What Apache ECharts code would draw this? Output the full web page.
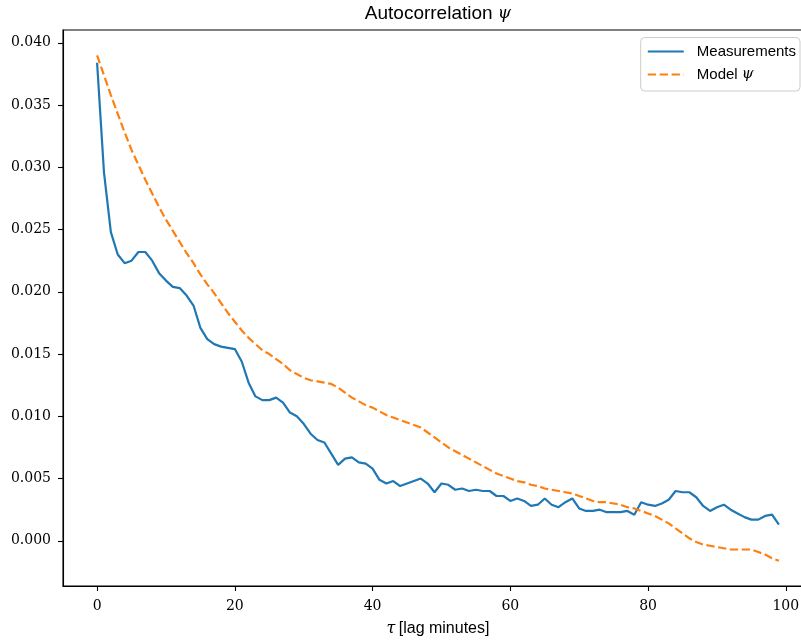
<!DOCTYPE html>
<html>
<head>
<meta charset="utf-8">
<script src="https://cdn.jsdelivr.net/npm/echarts@6/dist/echarts.min.js"></script>
<style>
html,body{margin:0;padding:0;background:#fff;overflow:hidden;width:801px;height:642px;}
#chart{width:830px;height:642px;}
</style>
</head>
<body>
<div id="chart"></div>
<script>
const lags = Array.from({length: 100}, (_, i) => i);
const measurements = [
0.0384,0.0296,0.0248,0.0230,0.0223,0.0225,0.0232,0.0232,0.0225,0.0215,
0.0209,0.0204,0.0203,0.0197,0.0189,0.0171,0.0162,0.0158,0.0156,0.0155,
0.0154,0.0144,0.0127,0.0116,0.0113,0.0113,0.0115,0.0111,0.0103,0.0100,
0.0094,0.0086,0.0081,0.0079,0.0070,0.0061,0.0066,0.0067,0.0063,0.0062,
0.0058,0.0049,0.0046,0.0048,0.0044,0.0046,0.0048,0.0050,0.0046,0.0039,
0.0046,0.0045,0.0041,0.0042,0.0040,0.0041,0.0040,0.0040,0.0036,0.0036,
0.0032,0.0034,0.0032,0.0028,0.0029,0.0034,0.0029,0.0027,0.0031,0.0034,
0.0026,0.0024,0.0024,0.0025,0.0023,0.0023,0.0023,0.0024,0.0021,0.0031,
0.0029,0.0028,0.0030,0.0033,0.0040,0.0039,0.0039,0.0035,0.0028,0.0024,
0.0027,0.0029,0.0025,0.0022,0.0019,0.0017,0.0017,0.0020,0.0021,0.0013
];
const model = [
0.0390,0.0374,0.0358,0.0343,0.0328,0.0314,0.0302,0.0290,0.0279,0.0268,
0.0258,0.0249,0.0240,0.0231,0.0223,0.0214,0.0206,0.0199,0.0191,0.0183,
0.0176,0.0169,0.0163,0.0158,0.0153,0.0150,0.0146,0.0142,0.0137,0.0134,
0.0131,0.0129,0.0128,0.0127,0.0126,0.0123,0.0119,0.0115,0.0112,0.0109,
0.0107,0.0104,0.0101,0.0099,0.0097,0.0095,0.0093,0.0091,0.0087,0.0083,
0.0079,0.0075,0.0072,0.0069,0.0066,0.0063,0.0060,0.0057,0.0054,0.0052,
0.0050,0.0048,0.0047,0.0045,0.0044,0.0042,0.0041,0.0040,0.0039,0.0038,
0.0036,0.0034,0.0032,0.0031,0.0031,0.0030,0.0029,0.0027,0.0026,0.0024,
0.0022,0.0020,0.0017,0.0014,0.0010,0.0006,0.0002,-0.0001,-0.0003,-0.0004,
-0.0005,-0.0006,-0.0007,-0.0007,-0.0007,-0.0007,-0.0009,-0.0011,-0.0014,-0.0016
];
const xTicks = [0, 20, 40, 60, 80, 100];
const yTicks = [0.000, 0.005, 0.010, 0.015, 0.020, 0.025, 0.030, 0.035, 0.040];

const chart = echarts.init(document.getElementById('chart'), null, {renderer: 'canvas'});
const serif = '"DejaVu Serif", "Liberation Serif", serif';
const sans = '"Liberation Sans", "DejaVu Sans", sans-serif';
chart.setOption({
  animation: false,
  backgroundColor: '#fff',
  title: {
    text: '{a|Autocorrelation }{m|ψ}',
    left: 433, textAlign: 'center', top: -1,
    textStyle: {
      rich: {
        a: {fontFamily: sans, fontSize: 19, color: '#000', fontWeight: 'normal'},
        m: {fontFamily: serif, fontStyle: 'italic', fontSize: 17, color: '#000', fontWeight: 'normal'}
      }
    }
  },
  legend: {
    orient: 'vertical', right: 30, top: 37.5,
    padding: [6.5, 4, 9, 6], itemGap: 8,
    itemWidth: 36, itemHeight: 14,
    borderColor: '#cccccc', borderWidth: 1, borderRadius: 4,
    backgroundColor: 'rgba(255,255,255,0.8)',
    itemStyle: {opacity: 0, borderWidth: 0},
    lineStyle: {width: 2.2},
    formatter: function (name) {
      if (name === 'Model ψ') return '{t|Model }{m|ψ}';
      return '{t|' + name + '}';
    },
    textStyle: {
      rich: {
        t: {fontFamily: sans, fontSize: 15, color: '#000', padding: [0, 0, 0, 8]},
        m: {fontFamily: serif, fontStyle: 'italic', fontSize: 15, color: '#000'}
      }
    },
    data: [{name: 'Measurements'}, {name: 'Model ψ'}]
  },
  grid: {
    left: 63, top: 30, bottom: 55, right: 17,
    show: true, borderColor: '#000', borderWidth: 1.1, backgroundColor: '#fff'
  },
  xAxis: {
    type: 'value', min: -4.95, max: 103.95,
    name: '{m|τ} {t|[lag minutes]}', nameLocation: 'middle', nameGap: 35,
    nameTextStyle: {
      rich: {
        t: {fontFamily: sans, fontSize: 16, color: '#000'},
        m: {fontFamily: serif, fontStyle: 'italic', fontSize: 16, color: '#000'}
      }
    },
    axisLine: {show: true, onZero: false, lineStyle: {color: '#000', width: 1.1}},
    axisTick: {show: true, length: 5, customValues: xTicks, lineStyle: {color: '#000', width: 1.1}},
    axisLabel: {customValues: xTicks, margin: 13, fontFamily: serif, fontSize: 14, color: '#000'},
    splitLine: {show: false}
  },
  yAxis: {
    type: 'value', min: -0.00363, max: 0.04103,
    axisLine: {show: true, onZero: false, lineStyle: {color: '#000', width: 1.1}},
    axisTick: {show: true, length: 5, customValues: yTicks, lineStyle: {color: '#000', width: 1.1}},
    axisLabel: {customValues: yTicks, margin: 12, fontFamily: serif, fontSize: 14, color: '#000',
      formatter: v => v.toFixed(3)},
    splitLine: {show: false}
  },
  series: [
    {
      name: 'Measurements', type: 'line', showSymbol: false, symbol: 'none',
      data: lags.map((x, i) => [x, measurements[i]]),
      lineStyle: {color: '#1f77b4', width: 2.2},
      itemStyle: {color: '#1f77b4'}
    },
    {
      name: 'Model ψ', type: 'line', showSymbol: false, symbol: 'none',
      data: lags.map((x, i) => [x, model[i]]),
      lineStyle: {color: '#ff7f0e', width: 2.2, type: [8.3, 3.6]},
      itemStyle: {color: '#ff7f0e'}
    }
  ]
});
</script>
</body>
</html>
